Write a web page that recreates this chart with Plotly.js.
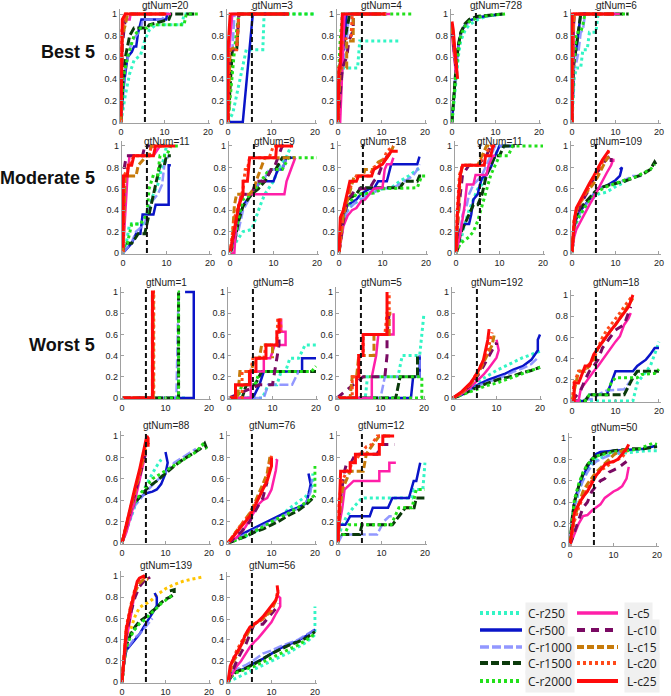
<!DOCTYPE html>
<html><head><meta charset="utf-8">
<script src="https://cdn.plot.ly/plotly-3.0.1.min.js"></script>
<style>html,body{margin:0;padding:0;background:#fff}#chart{width:671px;height:696px}</style>
</head><body><div id="chart"></div>
<script>
// ---------------- DATA ----------------
const seriesNames = ['C-r250','C-r500','C-r1000','C-r1500','C-r2000','L-c5','L-c10','L-c15','L-c20','L-c25'];
const panelTitles = ['gtNum=20','gtNum=3','gtNum=4','gtNum=728','gtNum=6',
  'gtNum=11','gtNum=9','gtNum=18','gtNum=11','gtNum=109',
  'gtNum=1','gtNum=8','gtNum=5','gtNum=192','gtNum=18',
  'gtNum=88','gtNum=76','gtNum=12','gtNum=50',
  'gtNum=139','gtNum=56'];
const groupLabels = ['Best 5','Moderate 5','Worst 5'];
const xTicks = [0,10,20];
const xTickText = ['0','10','20'];
const yTicks = [0,0.2,0.4,0.6,0.8,1];
const yTickText = ['0','0.2','0.4','0.6','0.8','1'];
const thresholdX = 5.5;
// each series: flat list x0,y0,x1,y1,... ; order follows seriesNames
const panel01 = [
 [0,0, 1,0.25, 2,0.45, 3,0.57, 4.5,0.62, 5.5,0.76, 6.5,0.85, 8,0.9, 14,0.9, 14.5,1, 17,1],
 [0,0, 0.5,0.3, 1.5,0.6, 2.5,0.65, 3,0.7, 3.5,0.7, 3.9,0.82, 4.7,0.95, 10.4,0.95, 10.6,1, 11,1],
 [0,0, 1,0.5, 2.5,0.75, 3.5,0.8, 4.5,0.85, 5,0.95, 9.5,0.95, 10,1, 11,1],
 [0,0, 0.5,0.4, 1,0.6, 2,0.8, 3,0.87, 6,0.87, 6.5,0.9, 11,0.95, 11.5,1, 17,1],
 [0,0, 0.5,0.4, 1.5,0.6, 3,0.8, 4.5,0.87, 6,0.87, 7,0.9, 14.5,0.9, 15,1, 18,1],
 [0,0, 0.3,0.9, 1,0.95, 2,0.95, 2.2,1, 11.5,1],
 [0,0, 0.3,0.7, 0.8,0.9, 1.3,1, 10,1],
 [0,0, 0.3,0.8, 1,0.9, 1.5,1, 10,1],
 [0,0, 0.2,0.85, 0.8,0.95, 1,1, 10,1],
 [0,0.05, 0.2,0.6, 0.3,0.95, 1,1, 10.4,1]
];
const panel02 = [
 [0,0, 1.1,0.08, 4.2,0.67, 8,0.67, 8.3,1, 20,1],
 [0,0, 3.4,0, 5.7,1, 14,1],
 [0,0, 0.3,0.67, 1,0.67, 1.5,1, 14,1],
 [0,0, 0.5,0.33, 1,0.67, 2,0.67, 2.5,1, 14,1],
 [0,0, 0.7,0.33, 1.5,0.67, 2,0.85, 2.5,1, 20,1],
 [0,0, 0.3,0.67, 1,1, 14,1],
 [0,0, 0.3,0.67, 2,0.67, 2.5,1, 14,1],
 [0,0, 0.5,0.67, 2,0.7, 2.5,1, 14,1],
 [0,0, 0.2,0.67, 2,0.67, 2.5,1, 14,1],
 [0,0, 0,0.67, 0.5,1, 14,1]
];
const panel03 = [
 [0,0, 0.5,0.25, 1,0.5, 4.5,0.5, 5,0.75, 14,0.75],
 [0,0, 0.5,0.5, 1.5,0.75, 2,1, 11,1],
 [0,0, 0.5,0.25, 1,0.5, 2,0.75, 2.5,1, 11,1],
 [0,0, 0.3,0.5, 1.5,0.75, 2.7,1, 11,1],
 [0,0, 0.2,0.5, 0.5,0.75, 1,1, 17.5,1],
 [0,0, 0.5,0, 1,0.5, 1.5,1, 12,1],
 [0,0, 1,0.5, 2,0.6, 2.5,0.75, 3.5,0.85, 3.5,1, 11,1],
 [0,0, 0.5,0.5, 2,0.5, 2,0.75, 3.5,0.75, 3.5,1, 11,1],
 [0,0, 0.3,0.5, 1,0.75, 3,0.8, 3.3,1, 11,1],
 [0,0, 0.2,0.5, 0.5,0.5, 1,1, 10.8,1]
];
const panel04 = [
 [0,0, 0.5,0.2, 1,0.45, 1.5,0.62, 2,0.75, 3,0.85, 4,0.9, 6,0.95, 8,0.98, 12,1],
 [0,0, 0.5,0.3, 1,0.55, 1.5,0.72, 2,0.82, 3,0.9, 4,0.94, 6,0.97, 9,0.99, 11.5,1],
 [0,0, 0.5,0.28, 1,0.52, 1.5,0.7, 2,0.8, 3,0.89, 4,0.93, 6,0.97, 9,0.99, 11,1],
 [0,0, 0.5,0.3, 1,0.55, 1.5,0.72, 2,0.83, 3,0.91, 4,0.95, 6,0.98, 9,0.99, 12,1],
 [0,0, 0.5,0.27, 1,0.5, 1.5,0.68, 2,0.8, 3,0.89, 4,0.93, 6,0.97, 9,0.99, 12.2,1],
 [0,0.8, 0.5,0.6, 0.9,0.45],
 [0,0.85, 0.5,0.65, 0.9,0.5],
 [0,0.88, 0.5,0.68, 1,0.5],
 [0,0.9, 0.5,0.7, 1,0.5],
 [0,0.93, 0.3,0.85, 0.7,0.65, 1,0.5, 1.3,0.4]
];
const panel05 = [
 [0,0, 0.2,0.2, 0.5,0.4, 1,0.5, 2,0.5, 2.5,0.67, 3.5,0.67, 4,0.83, 5.5,0.83, 6,1, 7,1],
 [0,0, 0.3,0.5, 0.5,0.67, 1,0.67, 1.5,0.83, 2,1, 10,1],
 [0,0, 0.5,0.5, 1,0.55, 1.5,0.65, 2,0.83, 2.5,0.85, 3,1, 10,1],
 [0,0, 0.3,0.5, 1,0.7, 1.5,0.83, 2,1, 13,1],
 [0,0, 0.3,0.5, 0.7,0.67, 1,0.83, 2,0.83, 2.5,0.9, 3,1, 13,1],
 [0,0, 0.3,0.9, 0.5,1, 11,1],
 [0,0, 0.2,0.8, 0.5,1, 10,1],
 [0,0, 0.2,0.8, 0.5,1, 10,1],
 [0,0, 0.2,0.85, 0.5,1, 10,1],
 [0,0, 0,1, 9.7,1]
];
const panel06 = [
 [0,0, 0.8,0.1, 1.5,0.27, 4.5,0.27, 5.5,0.36, 7,0.55, 8,0.64, 9,0.82, 9.5,0.91, 10,1, 11,1],
 [0,0, 2,0.09, 3,0.18, 4,0.18, 4.5,0.36, 7,0.36, 7.5,0.45, 10.5,0.45, 10.5,0.82, 11,0.82],
 [0,0, 2,0.1, 3,0.2, 5,0.27, 6,0.45, 8,0.55, 9,0.64, 9.5,0.82, 10.5,0.91],
 [0,0, 0.3,0.09, 2,0.09, 3.5,0.18, 5,0.18, 5.5,0.27, 6,0.36, 7,0.55, 8,0.73, 8.5,0.82, 9.5,0.82, 10,0.91, 11,0.91],
 [0,0, 0.3,0.09, 1,0.09, 2,0.27, 4,0.27, 5.5,0.36, 6,0.6, 7,0.73, 8,0.73, 8.5,0.91, 10,0.91, 11,1, 13,1],
 [0,0, 1,0.7, 1.5,0.91, 7,0.91, 8.5,1, 9,1],
 [0,0, 0.3,0.8, 0.8,0.91, 4.5,0.91, 5,1, 8,1],
 [0,0, 0.5,0.72, 3,0.72, 3.5,0.82, 5.5,0.91, 6,0.91, 6.5,1, 10,1],
 [0,0, 0.2,0.72, 1.5,0.82, 2.5,0.91, 6,0.91, 6.5,1, 9,1],
 [0,0.05, 0.1,0.72, 1,0.72, 1.2,0.82, 2,0.82, 2.5,0.91, 7,0.91, 7.5,1, 12,1]
];
const panel07 = [
 [0,0, 1.5,0.11, 3,0.2, 5,0.22, 7,0.45, 8,0.55, 10,0.67, 11,0.78, 13,0.9, 14,1],
 [0,0, 1,0.1, 2,0.33, 3,0.44, 4,0.5, 5,0.55, 7,0.67, 10,0.67, 11,0.78, 12,0.78, 13,0.89, 15,0.89],
 [0,0, 1,0.11, 2,0.22, 3,0.4, 5,0.55, 7,0.67, 8,0.7, 9,0.78, 12,0.78, 13,0.89, 14,0.89],
 [0,0, 1,0.1, 2,0.3, 3,0.44, 5,0.55, 6.5,0.6, 8,0.67, 9.5,0.78, 10.5,0.78, 12,0.89, 14,0.89],
 [0,0, 1,0.11, 2,0.33, 3,0.5, 5,0.55, 7,0.67, 9,0.78, 12,0.78, 13.5,0.89, 20,0.89],
 [0,0, 1,0, 1.5,0.33, 2.5,0.55, 12.5,0.55, 13,0.67, 14,0.78, 15,0.89],
 [0,0, 1,0.2, 2,0.44, 3,0.55, 5,0.55, 6,0.67, 8,0.67, 9.5,0.78, 10,0.78, 11,0.89, 12,1, 14,1],
 [0,0, 0.5,0.11, 1,0.44, 1.5,0.55, 4.5,0.55, 5.5,0.6, 6,0.67, 7,0.78, 8,0.89, 15,0.89],
 [0,0, 1,0.33, 2,0.44, 3,0.6, 3.5,0.78, 4,0.78, 4.5,0.89, 9,0.89, 10,1, 12,1],
 [0,0, 1,0.22, 1.5,0.33, 2,0.44, 3,0.55, 3,0.67, 4,0.67, 4.5,0.89, 10.5,0.89, 10.7,1, 14.5,1]
];
const panel08 = [
 [0,0, 0.5,0.2, 1,0.3, 2,0.4, 3,0.45, 5,0.5, 6,0.55, 8,0.58, 10,0.6, 12,0.61, 14,0.67, 16,0.72, 18,0.78, 19,0.8],
 [0,0, 0.5,0.25, 1,0.35, 2,0.45, 4,0.5, 5,0.55, 7,0.6, 8,0.6, 9,0.67, 11,0.67, 12,0.83, 18,0.83, 18.5,0.9],
 [0,0, 0.5,0.2, 1,0.3, 2,0.4, 4,0.48, 5,0.5, 7,0.55, 10,0.6, 13,0.62, 15,0.67, 17,0.72, 18,0.78, 18.5,0.83],
 [0,0, 0.5,0.3, 1,0.4, 2,0.5, 4,0.55, 5,0.61, 14,0.61, 15,0.67, 18,0.67, 18.5,0.72, 19.5,0.72],
 [0,0, 0.5,0.2, 1,0.35, 2,0.45, 3,0.5, 4,0.55, 8,0.56, 10,0.6, 18,0.61, 18.5,0.67, 19,0.72, 20,0.72],
 [0,0, 0.5,0.15, 1,0.25, 2,0.35, 3,0.4, 4,0.42, 5,0.48, 6,0.5, 7,0.55, 8,0.6, 10,0.61, 10.5,0.78, 11,0.83, 12,0.83, 12.5,0.89],
 [0,0, 1,0.3, 2,0.5, 3,0.55, 4,0.6, 7,0.6, 8,0.67, 9,0.72, 10,0.83, 11,0.9, 12,0.95],
 [0,0, 1,0.35, 2,0.5, 3,0.65, 3.5,0.72, 5.5,0.72, 6,0.78, 8,0.78, 9,0.85, 11,0.89, 12,0.95, 12.5,1],
 [0,0, 1,0.4, 2,0.55, 3,0.65, 4,0.72, 7,0.72, 8,0.8, 10,0.85, 11,0.95, 12.5,1],
 [0,0, 0.3,0.33, 1,0.4, 1.5,0.5, 2,0.6, 2.5,0.67, 4,0.67, 4.5,0.72, 7.5,0.72, 8,0.78, 10,0.83, 11,0.89, 12,0.95, 13.5,0.95]
];
const panel09 = [
 [0,0, 1,0.1, 2,0.27, 3,0.4, 4,0.5, 5,0.6, 6,0.64, 7,0.73, 8,0.82, 9,0.91, 10,1, 13,1],
 [0,0, 0.5,0.18, 1,0.22, 2,0.27, 3,0.27, 3.5,0.36, 4,0.5, 5,0.55, 5.5,0.64, 6,0.7, 7,0.73, 8,0.8, 9,0.91, 10,1, 13,1],
 [0,0, 1,0.2, 1.5,0.36, 2.5,0.45, 3,0.55, 4,0.64, 5,0.68, 6,0.73, 7,0.82, 8,0.91, 9,1, 13,1],
 [0,0, 0.5,0.05, 1,0.18, 2,0.27, 3,0.36, 4,0.45, 5,0.45, 6,0.55, 7,0.73, 8,0.82, 9,0.91, 10,0.91, 11,1, 13.5,1],
 [0,0, 1,0.09, 3,0.15, 4,0.2, 5,0.3, 6,0.45, 7,0.6, 8,0.73, 9,0.82, 10,0.91, 12,0.91, 13,1, 20,1],
 [0,0, 1,0.18, 2,0.45, 2.5,0.64, 4,0.64, 4.5,0.73, 7,0.73, 7.5,0.82, 8.5,0.91, 9,0.91],
 [0,0, 0.5,0.35, 1,0.55, 1.5,0.73, 3,0.82, 5,0.82, 7,0.91, 8,1],
 [0,0, 0.5,0.4, 1,0.73, 1.5,0.82, 5,0.82, 6,0.91, 7,1, 8,1],
 [0,0, 0.3,0.4, 0.8,0.73, 1.5,0.82, 5,0.82, 6.5,0.91, 8,1, 9,1],
 [0,0, 0.3,0.35, 0.7,0.6, 1,0.73, 1.5,0.82, 6.5,0.82, 6.8,0.91, 8,0.91, 8.5,1, 9,1]
];
const panel10 = [
 [0,0, 0.5,0.2, 1,0.28, 2,0.36, 3,0.42, 4,0.47, 5,0.52, 6,0.55, 8,0.57, 10,0.62, 12,0.66, 13,0.7],
 [0,0, 0.5,0.25, 1,0.32, 2,0.4, 3,0.45, 4,0.5, 5,0.55, 6,0.6, 8,0.63, 10,0.68, 11,0.72, 11.5,0.8, 11,0.78],
 [0,0, 0.5,0.22, 1,0.3, 2,0.38, 3,0.44, 4,0.5, 5,0.55, 6,0.6, 8,0.63, 10,0.65, 12,0.68, 14,0.72, 16,0.72],
 [0,0, 0.5,0.25, 1,0.35, 2,0.42, 3,0.47, 4,0.52, 5,0.56, 6,0.6, 8,0.63, 10,0.65, 12,0.67, 14,0.7, 16,0.73, 18,0.78, 19,0.85, 19.3,0.83],
 [0,0, 0.5,0.22, 1,0.3, 2,0.37, 3,0.43, 4,0.48, 5,0.53, 6,0.58, 8,0.62, 10,0.65, 12,0.68, 14,0.7, 16,0.74, 18,0.78, 19,0.83],
 [0,0, 0.5,0.15, 1,0.22, 2,0.3, 3,0.38, 4,0.45, 5,0.52, 6,0.6, 7,0.67, 8,0.75, 9,0.82, 9.5,0.88, 9.5,0.85],
 [0,0, 0.5,0.25, 1,0.35, 2,0.45, 3,0.53, 4,0.6, 5,0.7, 6,0.77, 7,0.83, 8,0.88, 9,0.92, 9,0.85],
 [0,0, 0.5,0.3, 1,0.4, 2,0.47, 3,0.55, 4,0.6, 5,0.65, 6,0.72, 7,0.8, 8,0.88, 8.5,0.9],
 [0,0, 0.5,0.3, 1,0.4, 2,0.48, 3,0.55, 4,0.62, 5,0.7, 6,0.78, 7,0.85, 8,0.92, 8.5,0.95],
 [0,0, 0.5,0.3, 1,0.42, 2,0.5, 3,0.58, 4,0.65, 5,0.72, 6,0.8, 7,0.87, 8,0.93, 8.5,0.96]
];
const panel11 = [
 [0,0, 14.8,0],
 [0,0, 16.5,0, 16.5,1, 14.5,1],
 [0,0, 12.5,0, 13,1],
 [0,0, 13,0, 13,1],
 [0,0, 13,0, 13,1, 12.8,1],
 [0,0, 7,0, 7,1],
 [0,0, 7,0, 7,1],
 [0,0, 7.2,0, 7.2,1, 7.5,1],
 [0,0, 7.3,0, 7.3,1, 7.6,1],
 [0,0, 7,0, 7,1, 7.5,1]
];
const panel12 = [
 [0,0, 7.7,0, 9,0.125, 11,0.125, 12,0.25, 13,0.25, 14,0.375, 16,0.375, 17.5,0.5, 20,0.5],
 [0,0, 5.5,0, 7,0.125, 8,0.25, 16.8,0.25, 16.8,0.375, 20,0.375],
 [0,0, 8,0, 9,0.125, 14.5,0.125, 16,0.25, 17,0.25],
 [0,0, 3,0, 4,0.125, 6,0.125, 7.5,0.25, 20,0.25],
 [0,0, 2,0, 3,0.125, 6,0.125, 7,0.25, 19,0.25, 20,0.3],
 [0,0, 5,0, 5,0.25, 8,0.25, 8,0.375, 9.5,0.375, 10.5,0.5, 13,0.5, 13,0.625, 12,0.625, 12,0.75],
 [0,0, 7,0.125, 10,0.125, 10.5,0.25, 11.5,0.5, 11.5,0.625],
 [0,0, 2,0, 2.5,0.25, 5,0.25, 6,0.375, 7,0.375, 7.5,0.5, 10,0.5, 10,0.375],
 [0,0, 3,0, 3,0.25, 5,0.25, 5.5,0.375, 8,0.375, 8.5,0.5, 11,0.5, 11.2,0.75, 11.8,0.75, 12,0.625],
 [0,0, 1.5,0, 1.5,0.125, 4.7,0.125, 4.7,0.25, 6.2,0.25, 6.2,0.375, 8.5,0.375, 8.5,0.5, 11,0.5, 11,0.625, 11.5,0.625, 11.5,0.75]
];
const panel13 = [
 [0,0, 6.5,0, 7,0.2, 14,0.2, 15,0.4, 19,0.4, 20,0.8],
 [0,0, 17,0, 17.5,0.2, 19,0.2, 19,0.4],
 [0,0, 10,0, 11,0.2, 19,0.2, 19,0.4],
 [0,0, 13.5,0, 14.5,0.2, 18.5,0.2, 18.5,0.4],
 [0,0, 19.5,0, 19.5,0.2, 6,0.2],
 [0,0, 8,0, 8,0.2, 9,0.4, 9.5,0.6, 13,0.6, 13,0.8],
 [0,0, 6,0.2, 11,0.2, 11.5,0.4, 11.5,0.6, 12,0.8],
 [0,0, 3,0, 3.5,0.2, 4.5,0.2, 5,0.4, 8.5,0.4, 8.5,0.6, 12,0.6, 12,0.8, 12.5,0.8],
 [0,0, 3.5,0, 3.5,0.2, 5,0.2, 5,0.4, 6,0.4, 6,0.6, 11,0.6, 11.5,0.8, 12,0.8, 12,1],
 [0,0, 4.5,0, 4.5,0.2, 5,0.2, 5,0.4, 6,0.4, 6,0.6, 11.5,0.6, 11.5,1]
];
const panel14 = [
 [0,0, 2,0.04, 4,0.1, 6,0.16, 8,0.21, 10,0.26, 12,0.3, 14,0.34, 16,0.38, 18,0.41, 20,0.44],
 [0,0, 2,0.03, 4,0.08, 6,0.13, 8,0.17, 10,0.2, 12,0.23, 14,0.27, 16,0.3, 18,0.36, 19.5,0.45, 19.5,0.55, 20,0.6],
 [0,0, 2,0.04, 4,0.08, 6,0.12, 8,0.15, 10,0.18, 12,0.21, 14,0.25, 16,0.28, 18,0.32, 19.5,0.38],
 [0,0, 2,0.03, 4,0.07, 6,0.11, 8,0.14, 10,0.17, 12,0.19, 14,0.21, 16,0.24, 18,0.26, 20,0.29],
 [0,0, 2,0.03, 4,0.06, 6,0.09, 8,0.12, 10,0.14, 12,0.17, 14,0.2, 16,0.23, 18,0.26, 20,0.29],
 [0,0, 2,0.04, 4,0.1, 5,0.14, 6,0.18, 7,0.22, 8,0.27, 9,0.32, 10,0.38, 10.5,0.45, 10,0.55],
 [0,0, 2,0.05, 4,0.12, 5,0.17, 6,0.23, 7,0.3, 8,0.38, 9,0.45, 10,0.52, 10,0.5],
 [0,0, 2,0.05, 4,0.13, 5,0.18, 6,0.25, 7,0.33, 8,0.42, 9,0.5, 9.5,0.6],
 [0,0, 2,0.05, 4,0.13, 5,0.2, 6,0.27, 7,0.35, 8,0.45, 8.5,0.55, 9,0.62],
 [0,0, 1,0.03, 2,0.06, 3,0.1, 4,0.14, 5,0.2, 6,0.27, 7,0.36, 7.5,0.45, 8,0.55, 8.3,0.65]
];
const panel15 = [
 [0,0, 14,0, 15,0.17, 16,0.22, 17,0.28, 18,0.33, 19,0.44, 20,0.56],
 [0,0, 3,0, 4,0.06, 8,0.06, 9,0.17, 10,0.28, 14,0.28, 15,0.33, 16,0.36, 17,0.39, 18,0.44, 19,0.5, 20,0.5],
 [0,0, 5,0.02, 6,0.06, 8,0.1, 12,0.11, 13,0.17, 14,0.22],
 [0,0, 3,0, 4,0.06, 12,0.06, 14,0.22, 15,0.28, 20,0.28],
 [0,0, 3,0, 4,0.06, 8,0.06, 9,0.17, 10,0.22, 15,0.22, 16,0.25, 19,0.26, 20,0.3],
 [0,0, 1.5,0, 2,0.11, 3,0.17, 4,0.22, 5,0.28, 6,0.33, 7,0.39, 8,0.44, 9,0.5, 10,0.56, 11,0.61, 12,0.72, 13,0.78, 13.5,0.83],
 [0,0, 2,0.1, 3,0.2, 4,0.28, 5,0.33, 6,0.39, 7,0.5, 8,0.56, 9,0.61, 10,0.67, 12,0.72, 12.5,0.78, 13,0.83, 13.5,0.89],
 [0,0, 1,0.17, 1.5,0.28, 3,0.28, 4,0.33, 5,0.39, 6,0.5, 7,0.56, 8,0.61, 9,0.67, 10,0.72, 11,0.78, 12,0.85, 13,0.9, 14,0.97],
 [0,0, 0.5,0.17, 1.5,0.28, 3,0.3, 4,0.35, 5,0.4, 6,0.5, 7,0.6, 8,0.67, 9,0.72, 10,0.78, 11,0.83, 12,0.89, 13,0.94, 14,1],
 [0,0, 0.5,0, 0.5,0.17, 1.5,0.17, 2,0.22, 2.5,0.28, 3,0.33, 4,0.33, 4.5,0.39, 5,0.44, 6,0.5, 7,0.56, 8,0.61, 9,0.67, 10,0.72, 11,0.78, 12,0.83, 13,0.89, 13.5,0.94, 14,1]
];
const panel16 = [
 [0,0, 1,0.12, 2,0.25, 3,0.35, 4,0.42, 5,0.5, 6,0.58, 7,0.65, 8,0.72, 9,0.78, 8.5,0.76],
 [0,0, 1,0.15, 2,0.3, 3,0.38, 4,0.42, 5,0.45, 6,0.47, 7,0.48, 8,0.5, 9,0.55, 10,0.65, 10.5,0.75, 10,0.85],
 [0,0, 1,0.12, 2,0.25, 3,0.35, 4,0.4, 5,0.45, 6,0.5, 8,0.58, 10,0.66, 12,0.75, 14,0.8, 16,0.85, 17,0.88],
 [0,0, 1,0.15, 2,0.3, 3,0.38, 4,0.43, 5,0.47, 6,0.52, 8,0.58, 10,0.65, 12,0.72, 14,0.78, 16,0.83, 18,0.88, 19,0.93, 19.5,0.88],
 [0,0, 1,0.15, 2,0.3, 3,0.38, 4,0.45, 5,0.5, 6,0.55, 7,0.6, 9,0.65, 11,0.7, 13,0.75, 15,0.8, 17,0.85, 18.5,0.92, 19.5,0.88],
 [0,0, 1,0.1, 2,0.25, 3,0.4, 4,0.58, 5,0.75, 5.5,0.85],
 [0,0, 1,0.15, 2,0.3, 3,0.45, 4,0.6, 5,0.75, 5.5,0.85],
 [0,0, 1,0.16, 2,0.32, 3,0.48, 4,0.62, 5,0.78, 5.7,0.92],
 [0,0, 1,0.17, 2,0.33, 3,0.5, 4,0.65, 5,0.82, 5.5,0.95, 6.2,0.92],
 [0,0, 1,0.18, 2,0.35, 3,0.52, 4,0.68, 4.5,0.78, 5,0.88, 5.5,0.95, 5.7,1, 6,0.98, 6,0.9]
];
const panel17 = [
 [0,0, 2,0.03, 4,0.06, 6,0.1, 8,0.15, 10,0.2, 12,0.25, 14,0.32, 16,0.38, 18,0.44, 19,0.5, 19.5,0.55, 19.5,0.65],
 [0,0, 2,0.05, 4,0.1, 6,0.14, 8,0.18, 10,0.22, 12,0.26, 14,0.3, 16,0.33, 18,0.37, 18.5,0.45, 19,0.55, 18.5,0.65],
 [0,0, 2,0.04, 4,0.08, 6,0.12, 8,0.16, 10,0.2, 12,0.24, 14,0.28, 16,0.32, 18,0.38, 19,0.48, 19.3,0.6],
 [0,0, 2,0.03, 4,0.06, 6,0.1, 8,0.13, 10,0.17, 12,0.21, 14,0.26, 16,0.3, 18,0.36, 20,0.44],
 [0,0, 2,0.03, 4,0.07, 6,0.11, 8,0.15, 10,0.2, 12,0.24, 14,0.28, 16,0.33, 18,0.38, 20,0.45, 20,0.72],
 [0,0, 2,0.05, 4,0.15, 5,0.22, 6,0.3, 7,0.36, 8,0.4, 9,0.42, 10,0.5, 10.5,0.6, 11,0.68, 11.3,0.78, 11,0.77],
 [0,0, 1,0.03, 2,0.08, 3,0.1, 4,0.15, 5,0.2, 6,0.28, 7,0.35, 8,0.42, 8.5,0.5, 9,0.57],
 [0,0, 1,0.06, 2,0.12, 3,0.17, 4,0.22, 5,0.28, 6,0.36, 7,0.45, 8,0.55, 9,0.65, 9.5,0.75, 9.7,0.82],
 [0,0, 1,0.06, 2,0.12, 3,0.17, 4,0.22, 5,0.27, 6,0.35, 7,0.43, 8,0.5, 9,0.6, 9.5,0.72, 10,0.82, 10,0.75],
 [0,0, 1,0.05, 2,0.1, 3,0.15, 4,0.2, 5,0.25, 6,0.33, 7,0.42, 8,0.5, 9,0.58, 9.5,0.65, 10,0.72, 10,0.8]
];
const panel18 = [
 [0,0, 0.3,0.08, 1,0.17, 2,0.25, 3.5,0.33, 5,0.4, 5.5,0.42, 17,0.42, 17.5,0.5, 19.5,0.5, 20,0.75],
 [0,0, 0.2,0.17, 1.7,0.17, 2.8,0.25, 7.3,0.25, 8,0.33, 11.5,0.33, 12.5,0.42, 16.3,0.42, 17.4,0.58, 18,0.58, 18.9,0.75],
 [0,0, 1,0.08, 9,0.08, 10.5,0.2, 11.8,0.25, 13,0.25],
 [0,0, 0.2,0.08, 5,0.08, 5.5,0.17, 12.5,0.17, 14,0.25, 15.5,0.33, 17.5,0.33, 18,0.42, 20,0.42],
 [0,0, 0.2,0.08, 1.5,0.08, 2.5,0.17, 12.2,0.17, 14,0.33, 17,0.33, 18,0.5, 20,0.5],
 [0,0, 0.3,0.17, 1,0.33, 1.5,0.5, 3.6,0.58, 9.5,0.58, 9.5,0.67, 11.8,0.67, 11.8,0.75, 13.3,0.75],
 [0,0, 0.5,0.4, 1.5,0.67, 2,0.75, 3,0.75, 4,0.83, 9,0.83, 10,0.92, 13,0.92],
 [0,0, 0.5,0.33, 1,0.5, 2,0.6, 2.8,0.67, 5.8,0.67, 6.5,0.83, 8,0.92, 9.5,1, 12,1],
 [0,0, 0.3,0.42, 1,0.58, 2,0.67, 3.5,0.75, 5,0.83, 6.5,0.9, 7.7,0.92, 9,1, 11,1],
 [0,0, 0.2,0.25, 0.5,0.5, 0.6,0.67, 2.8,0.67, 2.8,0.75, 4,0.75, 4,0.83, 9.5,0.83, 9.5,0.92, 10.3,0.92, 10.3,1, 12.9,1]
];
const panel19 = [
 [0,0, 1,0.35, 2,0.5, 3,0.62, 4,0.7, 5,0.76, 6,0.8, 8,0.83, 10,0.85, 12,0.86, 15,0.87, 18,0.88, 20,0.88],
 [0,0, 0.5,0.25, 1,0.4, 2,0.55, 3,0.65, 4,0.73, 5,0.8, 6,0.85, 7,0.87, 10,0.88, 14,0.89, 17,0.9, 20,0.93],
 [0,0, 1,0.35, 2,0.5, 3,0.6, 4,0.68, 5,0.74, 6,0.78, 8,0.82, 10,0.85, 12,0.87],
 [0,0, 0.5,0.25, 1,0.4, 2,0.55, 3,0.67, 4,0.75, 5,0.8, 6,0.83, 8,0.86, 10,0.88, 14,0.9, 17,0.9, 20,0.92],
 [0,0, 0.5,0.25, 1,0.42, 2,0.57, 3,0.68, 4,0.75, 5,0.8, 6,0.83, 8,0.85, 10,0.87, 13,0.88, 16,0.9, 19,0.95, 20,0.94],
 [0,0, 1,0.1, 2,0.2, 3,0.27, 4,0.28, 5,0.32, 6,0.35, 7,0.38, 8,0.44, 9,0.47, 10,0.5, 11,0.52, 12,0.55, 13,0.62, 13.5,0.73],
 [0,0, 1,0.12, 2,0.25, 3,0.35, 4,0.4, 4.5,0.45, 5,0.5, 6,0.55, 7,0.6, 8,0.62, 9,0.68, 10,0.7, 11,0.72, 12,0.75, 13,0.78],
 [0,0, 1,0.25, 2,0.38, 3,0.5, 4,0.57, 5,0.63, 6,0.68, 7,0.72, 8,0.76, 9,0.8, 10,0.84, 11,0.87, 12,0.88, 13,0.9],
 [0,0, 1,0.22, 2,0.35, 3,0.45, 4,0.52, 5,0.6, 6,0.65, 7,0.7, 8,0.72, 9,0.75, 10,0.78, 12,0.82, 13,0.88],
 [0,0, 0.5,0.18, 1,0.3, 2,0.38, 3,0.45, 4,0.5, 5,0.57, 6,0.65, 7,0.7, 8,0.75, 9,0.77, 10,0.78, 11,0.8, 12,0.85, 13,0.9, 13.5,0.94]
];
const panel20 = [
 [0,0, 0.5,0.22, 1,0.35, 2,0.45, 3,0.5, 4,0.55, 5,0.6, 6,0.63, 7,0.67, 8,0.7, 9,0.75],
 [0,0, 0.5,0.2, 1,0.3, 2,0.35, 3,0.4, 4,0.45, 5,0.52, 6,0.58, 7,0.65, 8,0.72, 8,0.8, 7.5,0.84],
 [0,0, 0.5,0.2, 1,0.3, 2,0.36, 3,0.42, 4,0.45, 5,0.5, 6,0.55, 7,0.6],
 [0,0, 0.5,0.22, 1,0.35, 2,0.45, 3,0.52, 4,0.57, 5,0.6, 6,0.63, 7,0.67, 8,0.7, 9,0.75, 10,0.78, 11,0.8, 12,0.83, 12,0.87, 11,0.86],
 [0,0, 0.5,0.2, 1,0.33, 2,0.43, 3,0.5, 4,0.55, 5,0.58, 6,0.62, 7,0.66, 8,0.7, 9,0.74, 10,0.77, 11,0.8, 12,0.83],
 [0,0, 0.5,0.2, 1,0.4, 2,0.62, 2.5,0.72, 3,0.85, 3.5,0.9],
 [0,0, 1,0.45, 2,0.65, 3,0.8, 4,0.9, 5,0.95, 6,1, 6.3,0.97],
 [0,0, 0.5,0.3, 1,0.5, 2,0.7, 3,0.85, 4,0.93, 5,0.97, 6,0.97],
 [0,0, 0.5,0.3, 1,0.52, 2,0.72, 3,0.88, 4,0.96, 5,0.99, 5.5,0.98],
 [0,0, 0.5,0.3, 1,0.5, 2,0.7, 3,0.88, 3.5,0.95, 4,0.98, 5,1, 5.5,0.98]
];
const panel21 = [
 [0,0, 2,0.04, 4,0.08, 6,0.12, 8,0.16, 10,0.2, 12,0.24, 14,0.28, 16,0.33, 18,0.38, 20,0.45, 20,0.72],
 [0,0, 0.5,0.08, 2,0.1, 4,0.13, 6,0.18, 8,0.22, 10,0.27, 12,0.32, 14,0.36, 16,0.39, 18,0.44, 20,0.5],
 [0,0, 0.5,0.1, 2,0.12, 4,0.16, 6,0.21, 8,0.27, 10,0.3, 12,0.34, 14,0.37, 16,0.4, 18,0.45, 20,0.5],
 [0,0, 1,0.07, 2,0.1, 4,0.13, 6,0.17, 8,0.22, 10,0.27, 12,0.31, 14,0.35, 16,0.38, 18,0.42, 20,0.48],
 [0,0, 1,0.06, 2,0.09, 4,0.12, 6,0.15, 8,0.19, 10,0.23, 12,0.27, 14,0.31, 16,0.35, 18,0.4, 20,0.46],
 [0,0, 1,0.08, 2,0.15, 3,0.2, 4,0.27, 5,0.33, 6,0.38, 7,0.42, 8,0.47, 9,0.52, 10,0.57, 11,0.65, 12,0.72, 12,0.8, 11.5,0.82],
 [0,0, 1,0.1, 2,0.2, 3,0.28, 4,0.35, 5,0.45, 6,0.55, 8,0.55, 9,0.6, 10,0.65, 11,0.7, 11.5,0.75],
 [0,0, 1,0.18, 2,0.25, 3,0.35, 4,0.42, 5,0.5, 6,0.55, 8,0.6, 10,0.68, 11,0.78],
 [0,0, 1,0.2, 2,0.3, 3,0.38, 4,0.45, 5,0.52, 6,0.55, 8,0.6, 9,0.65, 10,0.7, 11,0.78, 11.5,0.88],
 [0,0, 0.5,0.15, 1,0.2, 2,0.28, 3,0.35, 4,0.45, 5,0.52, 6,0.55, 7,0.58, 8,0.62, 9,0.67, 10,0.72, 11,0.78, 11.5,0.85, 11.3,0.92]
];
// extra unlabeled yellow dotted curves present in two panels
const extraYellow139 = [0,0, 0.5,0.2, 1,0.32, 2,0.5, 3,0.62, 4,0.7, 5,0.73, 6,0.75, 7,0.78, 8,0.82, 9,0.85, 10,0.88, 12,0.92, 14,0.95, 16,0.97, 18.5,0.99];
const extraYellow12 = [15.5,0.33, 17,0.33];

const panels = [panel01,panel02,panel03,panel04,panel05,panel06,panel07,panel08,panel09,panel10,
  panel11,panel12,panel13,panel14,panel15,panel16,panel17,panel18,panel19,panel20,panel21];
const extras = {17: extraYellow12, 19: extraYellow139};

// ---------------- STYLE / LAYOUT ----------------
const seriesColors = ['#33F5C5','#0A14C8','#7F86FF','#0B3A0B','#22E01A','#FF1FA8','#7A0A63','#C77A0A','#FF4A1A','#FF0A0A'];
const seriesDash = ['3px,3px','solid','9px,3px','8px,3px','3px,3px','solid','8px,6px','7px,3px','3px,3px','solid'];
const seriesWidth = [3,2.5,2.5,3,3,2.5,3,3,3,3];
const seriesOpacity = [1,1,0.85,1,1,1,1,1,1,1];
// per panel: [axis-left px, y=1 px, y=0 px, title offset px]
const boxes = [
 [121,14,122,9],[228,14,122,9],[338,14,122,9],[452,14,122,9],[572,14,122,9],
 [123,146,253,5],[230,146,253,5],[339,146,253,5],[456,146,253,5],[572,146,253,5],
 [122,292,398,10],[229,292,398,10],[337,292,398,10],[453,292,398,10],[572,295,401,12],
 [122,436,543,11],[228,436,543,11],[338,436,543,11],[570,438,545,11],
 [122,576,682,11],[228,577,682,12]
];
const W = 671, H = 696, XSPAN = 87;
const XR = [-0.3, 20.4], YR = [-0.012, 1.045];
const FONT = 'Arial, Liberation Sans, sans-serif';

function toXY(flat){const x=[],y=[];for(let i=0;i<flat.length;i+=2){x.push(flat[i]);y.push(flat[i+1]);}return {x,y};}

const traces = [];
const annotations = [];
const layout = {width:W,height:H,margin:{l:0,r:0,t:0,b:0},
  showlegend:false,shapes:[],font:{family:FONT,color:'#222'}};

panels.forEach((pdata,i)=>{
  const n = i===0?'':String(i+1);
  const [lx,y1,y0,toff] = boxes[i];
  const ux = XSPAN/20, uy = y0-y1;
  const dl = lx + XR[0]*ux, dr = lx + XR[1]*ux;
  const db = y0 - YR[0]*uy, dt = y0 - YR[1]*uy;
  const common = {showline:true, linecolor:'#a0a0a0', linewidth:1, ticks:'inside', ticklen:3, tickcolor:'#a0a0a0',
    showgrid:false, zeroline:false, fixedrange:true, tickmode:'array', ticklabeloverflow:'allow',
    tickfont:{family:FONT,size:9,color:'#222'}};
  layout['xaxis'+n] = Object.assign({domain:[dl/W, dr/W], range:XR, anchor:'y'+n, tickvals:xTicks, ticktext:xTickText}, common);
  layout['yaxis'+n] = Object.assign({domain:[1-db/H, 1-dt/H], range:YR, anchor:'x'+n, tickvals:yTicks, ticktext:yTickText}, common);
  const addLine = (flat,color,dash,width,op)=>{const {x,y}=toXY(flat);
    traces.push({type:'scatter',mode:'lines',x,y,xaxis:'x'+n,yaxis:'y'+n,hoverinfo:'skip',
      line:{color,dash,width},opacity:op});};
  if (extras[i]) addLine(extras[i],'#FFC400','3px,3px',3,1);
  pdata.forEach((s,k)=>addLine(s,seriesColors[k],seriesDash[k],seriesWidth[k],seriesOpacity[k]));
  addLine([thresholdX,0,thresholdX,1.045],'#111','5px,3px',2,1);
  annotations.push({xref:'paper',yref:'paper',x:(lx+44)/W,y:1-(y1-toff)/H,xanchor:'center',yanchor:'middle',
    text:panelTitles[i],showarrow:false,font:{family:FONT,size:10,color:'#222'}});
});

// row labels
const groupY = [52,178,345];
groupLabels.forEach((t,i)=>annotations.push({xref:'paper',yref:'paper',x:97/W,y:1-groupY[i]/H,
  xanchor:'right',yanchor:'middle',text:'<b>'+t+'</b>',showarrow:false,font:{family:FONT,size:18,color:'#111'}}));

// custom legend: two columns of 5
const legRowY = [613,630,647,663,681];
const legCols = [{x0:480,x1:522,tx:525},{x0:577,x1:618,tx:624}];
seriesNames.forEach((name,k)=>{
  const col = legCols[Math.floor(k/5)], yy = 1-legRowY[k%5]/H;
  layout.shapes.push({type:'line',xref:'paper',yref:'paper',x0:col.x0/W,x1:col.x1/W,y0:yy,y1:yy,
    line:{color:seriesColors[k],width:seriesWidth[k]+1,dash:seriesDash[k]},opacity:seriesOpacity[k]});
  annotations.push({xref:'paper',yref:'paper',x:col.tx/W,y:yy,xanchor:'left',yanchor:'middle',
    text:name,showarrow:false,bgcolor:'#f0f0f0',borderpad:2,font:{family:'Open Sans, sans-serif',size:12,color:'#222'}});
});
layout.annotations = annotations;

Plotly.newPlot('chart',traces,layout,{staticPlot:true,displayModeBar:false});
</script></body></html>
